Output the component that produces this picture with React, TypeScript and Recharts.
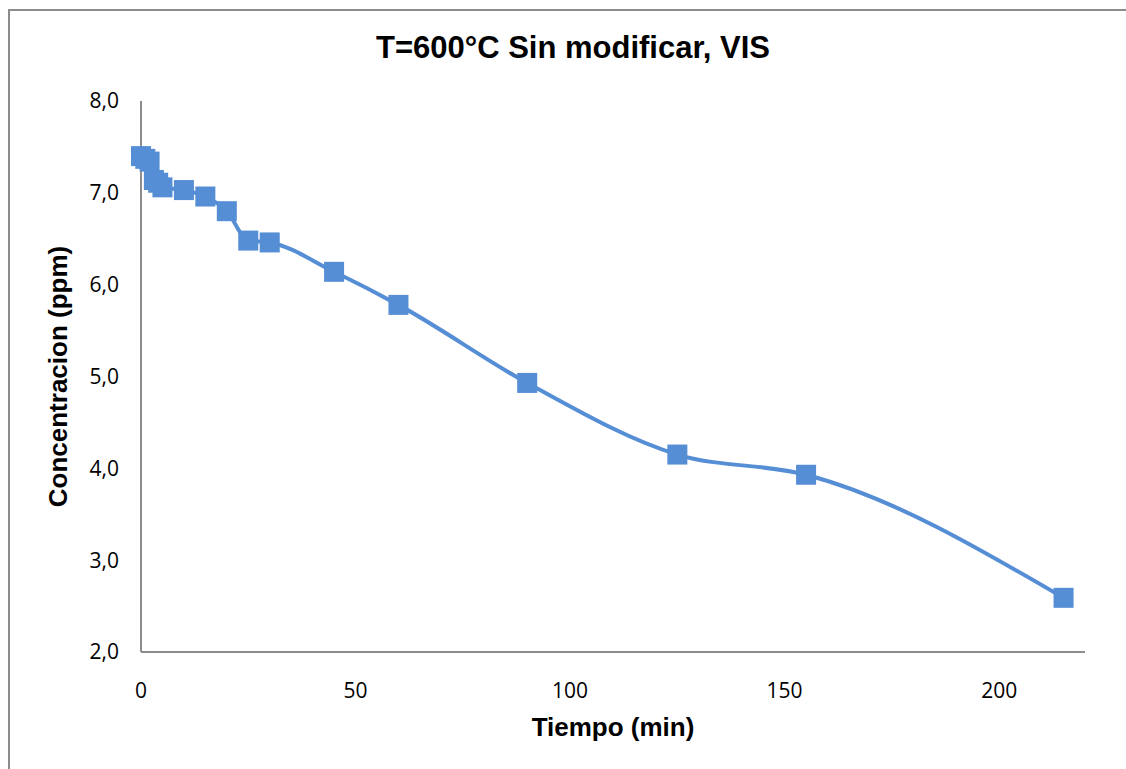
import { Line, LineChart, XAxis, YAxis } from "recharts";

const tiempo = [0, 1, 2, 3, 4, 5, 10, 15, 20, 25, 30, 45, 60, 90, 125, 155, 215];
const concentracion = [7.4, 7.37, 7.34, 7.14, 7.11, 7.06, 7.03, 6.96, 6.8, 6.48, 6.46, 6.14, 5.78, 4.93, 4.15, 3.93, 2.59];
const xTicks = [0, 50, 100, 150, 200];
const yTicks = [2, 3, 4, 5, 6, 7, 8];

const TITLE = "T=600°C Sin modificar, VIS";
const X_TITLE = "Tiempo (min)";
const Y_TITLE = "Concentracion (ppm)";

const BLUE = "#558ed5";
const GRID_GRAY = "#8c8c8c";
const TICK_FONT = { fontFamily: "'Open Sans', sans-serif", fontSize: 21, fill: "#000" };
const BOLD_FONT = "'Liberation Sans', Arial, sans-serif";

const data = tiempo.map((t, i) => ({ t, c: concentracion[i] }));

const formatComma = (v: number) => v.toFixed(1).replace(".", ",");

function SquareDot(props: any) {
  const { cx, cy, index } = props;
  if (cx == null || cy == null) return null;
  return <rect key={`sq-${index}`} x={cx - 10} y={cy - 10} width={20} height={20} fill={BLUE} />;
}

export default function App() {
  // fixed full-window layer so the frame can run off the edges without scrollbars
  return (
    <div style={{ position: "fixed", left: 0, top: 0, width: "100vw", height: "100vh", overflow: "hidden", background: "#fff" }}>
      <div
        style={{
          position: "absolute",
          left: 8,
          top: 9,
          width: 1300,
          height: 900,
          borderTop: `2px solid ${GRID_GRAY}`,
          borderLeft: `2px solid ${GRID_GRAY}`,
        }}
      />
      <div
        style={{
          position: "absolute",
          left: 273,
          width: 600,
          top: 29,
          textAlign: "center",
          fontFamily: BOLD_FONT,
          fontWeight: "bold",
          fontSize: 31,
          lineHeight: "38px",
          color: "#000",
        }}
      >
        {TITLE}
      </div>
      <div style={{ position: "absolute", left: 8, top: 8 }}>
        <LineChart width={1118} height={761} data={data} margin={{ top: 93, right: 41, bottom: 0, left: 0 }}>
          <XAxis
            dataKey="t"
            type="number"
            domain={[0, 220]}
            ticks={xTicks}
            height={117}
            tickLine={false}
            tickSize={0}
            tickMargin={31}
            tick={TICK_FONT}
            axisLine={{ stroke: GRID_GRAY, strokeWidth: 2 }}
            label={{
              content: (p: any) => {
                const vb = p.viewBox;
                return (
                  <text
                    x={vb.x + vb.width / 2}
                    y={vb.y + 75}
                    textAnchor="middle"
                    dominantBaseline="central"
                    fontFamily={BOLD_FONT}
                    fontWeight="bold"
                    fontSize={26}
                    fill="#000"
                  >
                    {X_TITLE}
                  </text>
                );
              },
            }}
          />
          <YAxis
            type="number"
            domain={[2, 8]}
            ticks={yTicks}
            width={133}
            tickLine={false}
            tickSize={0}
            tickMargin={22}
            tick={TICK_FONT}
            tickFormatter={formatComma}
            axisLine={{ stroke: GRID_GRAY, strokeWidth: 2 }}
            label={{
              content: (p: any) => {
                const vb = p.viewBox;
                const cx = vb.x + 50;
                const cy = vb.y + vb.height / 2;
                return (
                  <text
                    x={cx}
                    y={cy}
                    transform={`rotate(-90 ${cx} ${cy})`}
                    textAnchor="middle"
                    dominantBaseline="central"
                    fontFamily={BOLD_FONT}
                    fontWeight="bold"
                    fontSize={26}
                    fill="#000"
                  >
                    {Y_TITLE}
                  </text>
                );
              },
            }}
          />
          <Line
            type="monotone"
            dataKey="c"
            stroke={BLUE}
            strokeWidth={4}
            dot={<SquareDot />}
            activeDot={false}
            isAnimationActive={false}
          />
        </LineChart>
      </div>
    </div>
  );
}
